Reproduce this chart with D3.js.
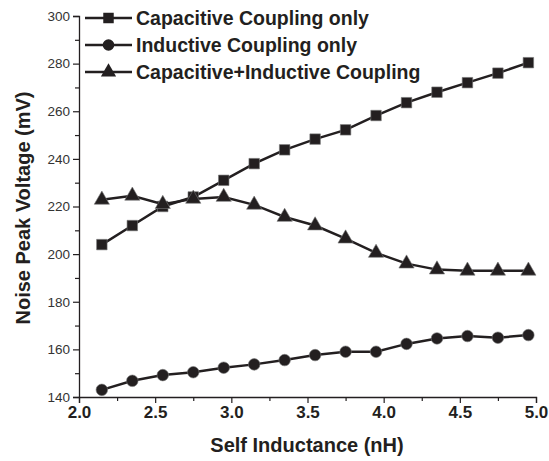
<!DOCTYPE html>
<html>
<head>
<meta charset="utf-8">
<script src="https://cdn.jsdelivr.net/npm/d3@7"></script>
<style>
  body { margin: 0; background: #fff; }
  svg { display: block; font-family: "Liberation Sans", Arial, sans-serif; }
</style>
</head>
<body>
<svg id="chart" width="549" height="461"></svg>
<script>
// self inductance values (nH)
const inductance = [2.15, 2.35, 2.55, 2.75, 2.95, 3.15, 3.35, 3.55, 3.75, 3.95, 4.15, 4.35, 4.55, 4.75, 4.95];
// noise peak voltage (mV)
const capacitiveOnly = [204, 212, 220, 224, 231, 238, 243.8, 248.3, 252.2, 258.2, 263.6, 268, 272, 276, 280.4];
const inductiveOnly = [143, 146.8, 149.2, 150.4, 152.3, 153.7, 155.5, 157.6, 159, 159, 162.3, 164.6, 165.6, 164.9, 166];
const combined = [222.8, 224.5, 221, 223.2, 224, 220.7, 215.6, 212, 206.5, 200.5, 196, 193.5, 193, 193, 193];
const seriesNames = ["Capacitive Coupling only", "Inductive Coupling only", "Capacitive+Inductive Coupling"];
const xTicks = [2.0, 2.5, 3.0, 3.5, 4.0, 4.5, 5.0];
const yTicks = [140, 160, 180, 200, 220, 240, 260, 280, 300];

const ink = "#231f20";
const svg = d3.select("#chart");
const margin = {left: 79, right: 13, top: 16, bottom: 64};
const width = 549 - margin.left - margin.right;
const height = 461 - margin.top - margin.bottom;

const x = d3.scaleLinear().domain([2.0, 5.0]).range([margin.left, margin.left + width]);
const y = d3.scaleLinear().domain([140, 300]).range([margin.top + height, margin.top]);

const g = svg.append("g");

// x axis
const xAxis = g.append("g")
    .attr("transform", `translate(0,${margin.top + height})`)
    .call(d3.axisBottom(x).tickValues(xTicks).tickFormat(d3.format(".1f")).tickSize(6).tickPadding(3));
g.append("g")
    .attr("transform", `translate(0,${margin.top + height})`)
    .call(d3.axisBottom(x).tickValues(d3.range(2.25, 5.0, 0.5)).tickFormat("").tickSize(4))
    .select(".domain").remove();
xAxis.selectAll("text")
    .attr("font-size", 17).attr("font-weight", "bold").attr("fill", ink);

// y axis
const yAxis = g.append("g")
    .attr("transform", `translate(${margin.left},0)`)
    .call(d3.axisLeft(y).tickValues(yTicks).tickSize(6).tickPadding(3));
g.append("g")
    .attr("transform", `translate(${margin.left},0)`)
    .call(d3.axisLeft(y).tickValues(d3.range(150, 300, 20)).tickFormat("").tickSize(4))
    .select(".domain").remove();
yAxis.selectAll("text")
    .attr("font-size", 13.5).attr("fill", "#333");

svg.selectAll(".domain").attr("stroke", ink).attr("stroke-width", 1.3);
svg.selectAll(".tick line").attr("stroke", ink).attr("stroke-width", 1.2);

// axis titles
svg.append("text")
    .attr("x", 307)
    .attr("y", 452)
    .attr("text-anchor", "middle")
    .attr("font-size", 20).attr("font-weight", "bold").attr("fill", ink)
    .text("Self Inductance (nH)");
svg.append("text")
    .attr("transform", "translate(30,208) rotate(-90)")
    .attr("text-anchor", "middle")
    .attr("font-size", 20).attr("font-weight", "bold").attr("fill", ink)
    .text("Noise Peak Voltage (mV)");

const series = [
  {name: seriesNames[0], values: capacitiveOnly, shape: d3.symbolSquare, size: 110},
  {name: seriesNames[1], values: inductiveOnly, shape: d3.symbolCircle, size: 105},
  {name: seriesNames[2], values: combined, shape: d3.symbolTriangle, size: 100}
];

const line = d3.line().x(d => x(d[0])).y(d => y(d[1]));

series.forEach(s => {
  const pts = inductance.map((v, i) => [v, s.values[i]]);
  g.append("path")
      .datum(pts)
      .attr("fill", "none")
      .attr("stroke", ink)
      .attr("stroke-width", 2.5)
      .attr("d", line);
  g.selectAll(null)
      .data(pts)
      .enter()
      .append("path")
      .attr("d", d3.symbol().type(s.shape).size(s.size))
      .attr("transform", d => `translate(${x(d[0])},${y(d[1])})`)
      .attr("fill", ink)
      .attr("stroke", "#777")
      .attr("stroke-width", 0.6);
});

// legend
const legend = svg.append("g").attr("transform", "translate(85,18)");
series.forEach((s, i) => {
  const row = legend.append("g").attr("transform", `translate(0,${i * 27})`);
  row.append("line").attr("x1", 0).attr("x2", 47).attr("y1", 0).attr("y2", 0)
      .attr("stroke", ink).attr("stroke-width", 2.5);
  row.append("path")
      .attr("d", d3.symbol().type(s.shape).size(s.size))
      .attr("transform", "translate(23.5,0)")
      .attr("fill", ink);
  row.append("text")
      .attr("x", 51).attr("y", 0).attr("dy", "0.35em")
      .attr("font-size", 19.5).attr("font-weight", "bold").attr("fill", ink)
      .text(s.name);
});
</script>
</body>
</html>
